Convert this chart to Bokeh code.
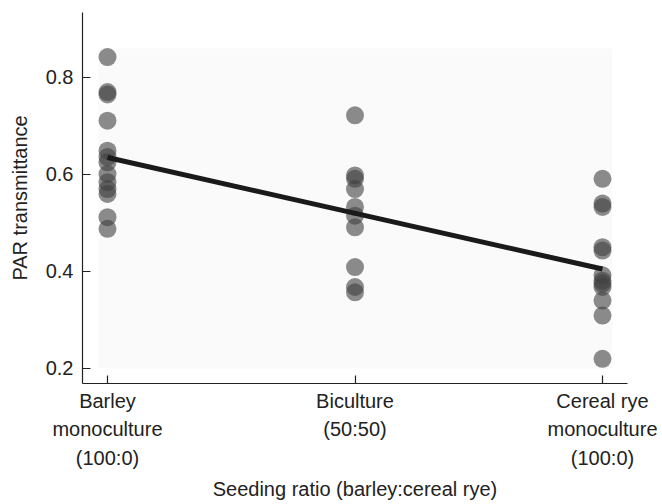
from bokeh.plotting import figure
from bokeh.models import FixedTicker, Range1d
from bokeh.embed import file_html
from bokeh.resources import INLINE

# ---- data ----
categories = ["Barley\nmonoculture\n(100:0)", "Biculture\n(50:50)", "Cereal rye\nmonoculture\n(100:0)"]
barley = [0.842, 0.770, 0.765, 0.711, 0.649, 0.636, 0.625, 0.601, 0.584, 0.570, 0.560, 0.512, 0.488]
biculture = [0.722, 0.598, 0.591, 0.570, 0.533, 0.515, 0.491, 0.409, 0.368, 0.357]
cereal_rye = [0.591, 0.540, 0.533, 0.450, 0.443, 0.392, 0.381, 0.375, 0.368, 0.340, 0.309, 0.220]
fit_x = [0, 2]
fit_y = [0.635, 0.405]
y_ticks = [0.2, 0.4, 0.6, 0.8]

FONT = "Liberation Sans"
FS = "20px"

p = figure(width=662, height=504, output_backend="svg", toolbar_location=None,
           x_range=Range1d(-0.101, 2.101), y_range=Range1d(0.169, 0.934),
           min_border_left=82, min_border_right=35, min_border_top=12, min_border_bottom=121)
p.outline_line_color = None
p.xgrid.visible = False
p.ygrid.visible = False
p.background_fill_color = "white"
p.border_fill_color = "white"

# faint panel behind the points, derived from the data extent
groups = [barley, biculture, cereal_rye]
all_vals = barley + biculture + cereal_rye
p.quad(left=[-0.037], right=[len(groups) - 1 + 0.04], bottom=[y_ticks[0]],
       top=[max(all_vals) + 0.018], fill_color="#fafafa", line_color=None)

for i, vals in enumerate(groups):
    p.scatter([i] * len(vals), vals, size=18, fill_color="#404040", fill_alpha=0.6, line_color=None)

p.line(fit_x, fit_y, line_color="#1a1a1a", line_width=5)

# axes
p.yaxis.ticker = FixedTicker(ticks=y_ticks)
p.yaxis.major_label_overrides = {t: f"{t:.1f}" for t in y_ticks}
p.xaxis.ticker = FixedTicker(ticks=list(range(len(categories))))
p.xaxis.major_label_overrides = {i: c for i, c in enumerate(categories)}

for ax in (p.xaxis[0], p.yaxis[0]):
    ax.axis_line_color = "#222222"
    ax.axis_line_width = 1.2
    ax.major_tick_line_color = "#222222"
    ax.major_tick_line_width = 1.2
    ax.major_tick_in = 8
    ax.major_tick_out = 0
    ax.minor_tick_line_color = None
    ax.major_label_text_font = FONT
    ax.major_label_text_font_size = FS
    ax.major_label_text_color = "#222222"
    ax.axis_label_text_font = FONT
    ax.axis_label_text_font_size = FS
    ax.axis_label_text_font_style = "normal"
    ax.axis_label_text_color = "#222222"

p.xaxis.axis_label = "Seeding ratio (barley:cereal rye)"
p.yaxis.axis_label = "PAR transmittance"
p.xaxis.major_label_standoff = 6
p.xaxis.major_label_text_line_height = 1.3
p.xaxis.axis_label_standoff = 6
p.yaxis.major_label_standoff = 9
p.yaxis.axis_label_standoff = 12

open("out.html", "w").write(file_html(p, INLINE))
